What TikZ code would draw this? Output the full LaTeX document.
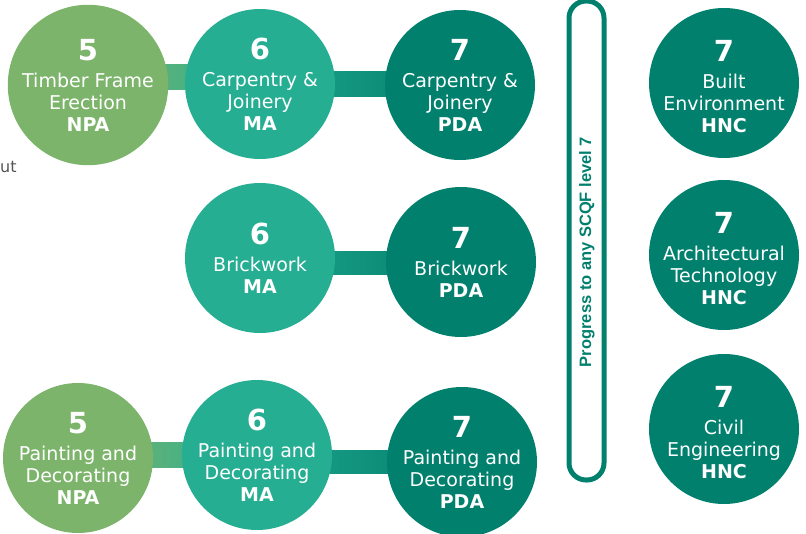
\documentclass[tikz,border=0pt]{standalone}
\usepackage{fontspec}
\setmainfont{DejaVu Sans}
\newfontfamily\barfont{Liberation Sans}
\usetikzlibrary{backgrounds}
\definecolor{cgreen}{HTML}{7DB46B}
\definecolor{cteal}{HTML}{26AE93}
\definecolor{cdark}{HTML}{02806E}
\definecolor{cgray}{HTML}{555555}
\newcommand\lvnum[1]{{\fontsize{29}{26}\selectfont\bfseries #1}\\[5pt]}
\newcommand\lvaw[1]{{\bfseries #1}}
\tikzset{
  x=1pt, y=1pt,
  lvtext/.style={text=white, align=center, inner sep=0pt, font=\fontsize{19}{22}\selectfont},
  lv/.style={circle, minimum size=150pt, lvtext},
  npa/.style={lv, fill=cgreen},
  ma/.style={lv, fill=cteal},
  pda/.style={lv, fill=cdark},
}
\begin{document}
\begin{tikzpicture}
\useasboundingbox (0,0) rectangle (806,-534);
% row 1
\node[npa] (a1) at (88,-85) {\lvnum{5}Timber Frame\\Erection\\\lvaw{NPA}};
\node[ma]  (a2) at (260,-84) {\lvnum{6}Carpentry \&\\Joinery\\\lvaw{MA}};
\node[pda] (a3) at (460,-85) {\lvnum{7}Carpentry \&\\Joinery\\\lvaw{PDA}};
% row 2
\node[ma]  (b2) at (260,-258) {\lvnum{6}Brickwork\\\lvaw{MA}};
\node[pda] (b3) at (461,-262) {\lvnum{7}Brickwork\\\lvaw{PDA}};
% row 3
\node[npa] (c1) at (78,-458) {\lvnum{5}Painting and\\Decorating\\\lvaw{NPA}};
\node[ma]  (c2) at (257,-455) {\lvnum{6}Painting and\\Decorating\\\lvaw{MA}};
\node[pda] (c3) at (462,-462) {\lvnum{7}Painting and\\Decorating\\\lvaw{PDA}};
% right column
\node[pda] (r1) at (724,-83) {};
\node[pda] (r2) at (724,-255) {};
\node[pda] (r3) at (724,-429) {};
\node[lvtext] (r1t) at ([yshift=-4]r1.center) {\lvnum{7}Built\\Environment\\\lvaw{HNC}};
\node[lvtext] (r2t) at ([yshift=-4]r2.center) {\lvnum{7}Architectural\\Technology\\\lvaw{HNC}};
\node[lvtext] (r3t) at ([yshift=-4]r3.center) {\lvnum{7}Civil\\Engineering\\\lvaw{HNC}};
% bar
\node[draw=cdark, line width=5pt, rounded corners=17pt, minimum width=35pt,
  minimum height=479pt, inner sep=0pt] (bar) at (586.5,-240.5) {};
\node[rotate=90, text=cdark, font=\barfont\bfseries\fontsize{16.5}{18}\selectfont]
  (bartxt) at (587,-252) {Progress to any SCQF level 7};
% stray text
\node[anchor=west, text=cgray, font=\fontsize{16}{18}\selectfont, inner sep=0pt]
  (ut) at (0,-167) {ut};
\begin{pgfonlayer}{background}
\shade[left color=cgreen, right color=cteal] ([yshift=20]a1.center) rectangle ([yshift=-6]a2.center);
\shade[left color=cteal!80!cdark, right color=cdark] ([yshift=12]a2.center) rectangle ([yshift=-12]a3.center);
\shade[left color=cteal!80!cdark, right color=cdark] ([yshift=6]b2.center) rectangle ([yshift=-13]b3.center);
\shade[left color=cgreen, right color=cteal] ([yshift=16]c1.center) rectangle ([yshift=-12]c2.center);
\shade[left color=cteal!80!cdark, right color=cdark] ([yshift=5]c2.center) rectangle ([yshift=-11]c3.center);
\end{pgfonlayer}
\end{tikzpicture}
\end{document}
